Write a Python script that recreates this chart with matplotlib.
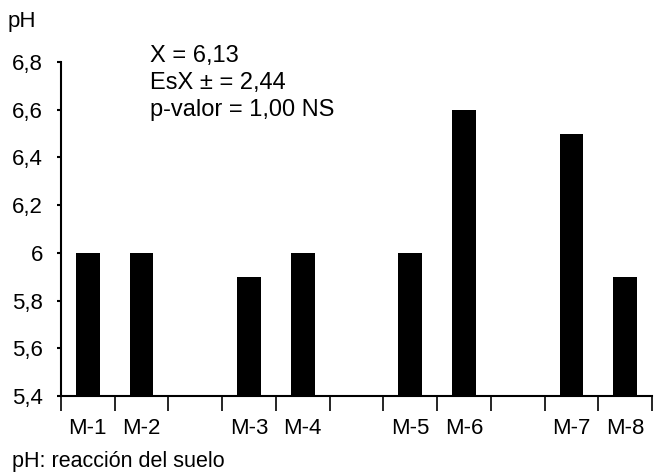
import matplotlib
matplotlib.use("Agg")
import matplotlib.pyplot as plt
import numpy as np

plt.rcParams["font.family"] = ["Liberation Sans", "DejaVu Sans"]

# samples, with empty slots between the groups
slots = ["M-1", "M-2", "", "M-3", "M-4", "", "M-5", "M-6", "", "M-7", "M-8"]
samples = ["M-1", "M-2", "M-3", "M-4", "M-5", "M-6", "M-7", "M-8"]
ph = [6.0, 6.0, 5.9, 6.0, 6.0, 6.6, 6.5, 5.9]
yticks = [5.4, 5.6, 5.8, 6.0, 6.2, 6.4, 6.6, 6.8]
stats = ["X = 6,13", "EsX \u00b1 = 2,44", "p-valor = 1,00 NS"]

W, H = 654, 476
fig = plt.figure(figsize=(W / 100, H / 100), dpi=100)
ax = fig.add_axes([61 / W, 1 - 396 / H, (652 - 61) / W, (396 - 62) / H])

pos = np.array([slots.index(s) for s in samples])
ax.bar(pos, ph, width=0.44, color="black", bottom=0)

ax.set_xlim(-0.5, len(slots) - 0.5)
ax.set_ylim(5.4, 6.8)

for side in ["top", "right"]:
    ax.spines[side].set_visible(False)
for side in ["left", "bottom"]:
    ax.spines[side].set_linewidth(1.5)

fs = 16
ax.set_yticks(yticks)
ax.set_yticklabels([("%g" % v).replace(".", ",") for v in yticks], fontsize=fs)
ax.tick_params(axis="y", direction="out", length=3, width=1.5, pad=10)

# slot boundaries as ticks, sample names centred between them
ax.set_xticks(np.arange(len(slots) + 1) - 0.5)
ax.set_xticklabels([])
ax.tick_params(axis="x", which="major", direction="out", length=11, width=1.2)
ax.set_xticks(pos, minor=True)
ax.set_xticklabels(samples, minor=True, fontsize=fs)
ax.tick_params(axis="x", which="minor", length=0, pad=16)

fig.text(8 / W, 1 - 22 / H, "pH", fontsize=fs, va="center", ha="left")
fig.text(150 / W, 1 - 45 / H, "\n".join(stats), fontsize=17, va="top",
         ha="left", linespacing=1.28)
fig.text(12 / W, 1 - 461 / H, "pH: reacci\u00f3n del suelo", fontsize=15.5,
         va="center", ha="left")

fig.savefig("out.png", dpi=100)
